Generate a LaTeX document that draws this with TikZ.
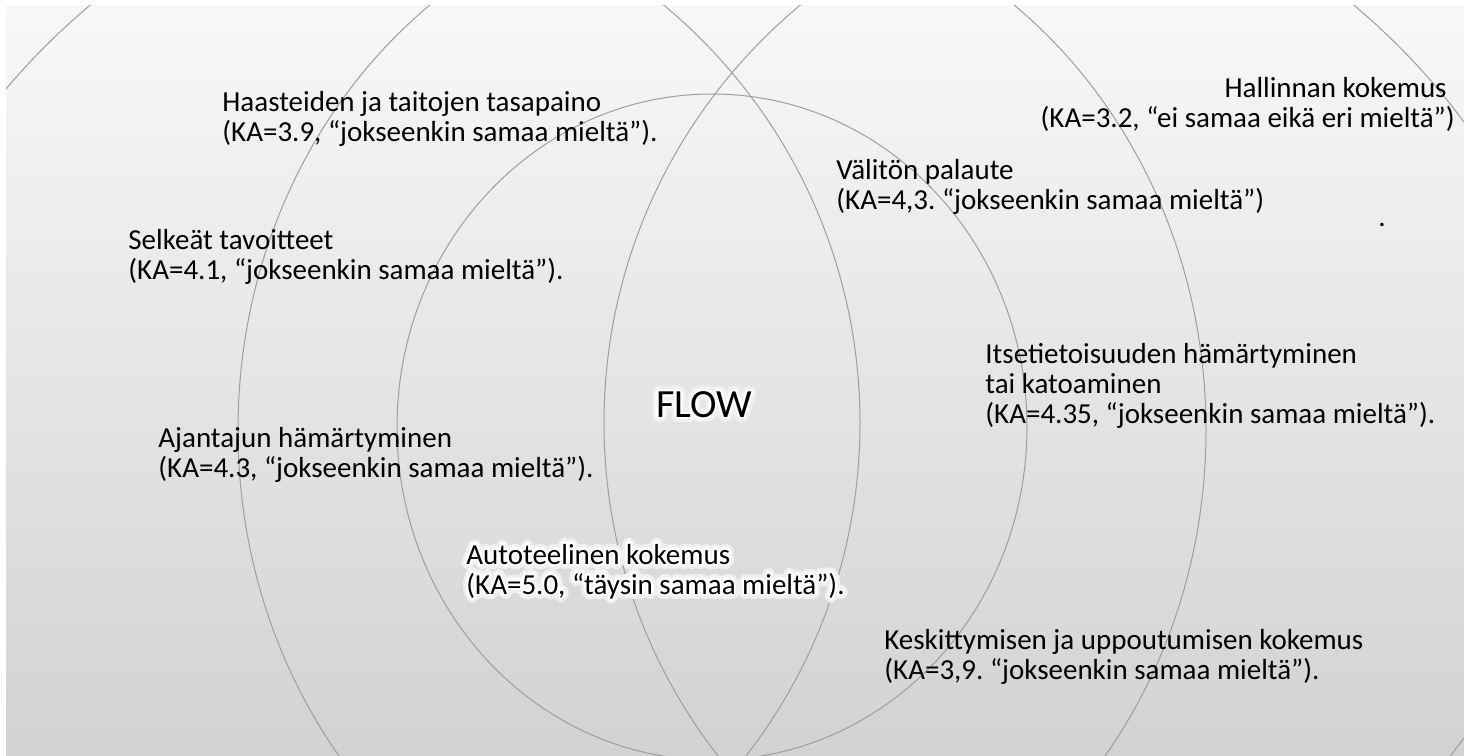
\documentclass[tikz,border=0pt]{standalone}
\usepackage{fontspec}
\setmainfont{Carlito}
\usepackage{contour}
\contournumber{32}

\definecolor{bgtop}{RGB}{248,248,248}
\definecolor{bgbot}{RGB}{210,210,210}
\definecolor{ringgray}{RGB}{158,158,158}
\definecolor{halo}{RGB}{240,240,240}

% soft white glow: a wide pale halo under a narrow white rim
\newcommand{\glowline}[1]{%
  \rlap{\contourlength{2.6pt}\color{halo}\contour{halo}{#1}}%
  \contourlength{1.1pt}\contour{white}{#1}}

\begin{document}
\frenchspacing
\begin{tikzpicture}[x=0.5pt,y=-0.5pt,
  ring/.style={draw=ringgray, line width=0.5pt},
  caption/.style={inner sep=0pt, align=left, anchor=base west,
    font=\fontsize{14.5}{15}\selectfont},
  captionr/.style={caption, align=right, anchor=base east},
  title/.style={inner sep=0pt, font=\fontsize{20}{22}\selectfont}]

% canvas and graded backdrop
\useasboundingbox (0,0) rectangle (1464,756);
\fill[white] (0,0) rectangle (1464,756);
\shade[top color=bgtop, bottom color=bgbot] (6,5) rectangle (1464,756);

% overlapping rings
\begin{scope}
  \clip (6,5) rectangle (1464,756);
  \draw[ring] (722,430) ellipse [x radius=423.5pt, y radius=319pt];
  \draw[ring] (722,430) ellipse [x radius=242pt, y radius=266.5pt];
  \draw[ring] (712,427) ellipse [x radius=157.5pt, y radius=166.5pt];
  \draw[ring] (317,423) circle [radius=271.5pt];
  \draw[ring] (1147,423) circle [radius=271.5pt];
\end{scope}

% captions (each anchored at the baseline of its last line)
\node[caption] (balance) at (222,141)
  {Haasteiden ja taitojen tasapaino\\(KA=3.9, “jokseenkin samaa mieltä”).};
\node[captionr] (control) at (1455,127)
  {Hallinnan kokemus\hspace*{4pt}\\(KA=3.2, “ei samaa eikä eri mieltä”)};
\node[caption] (feedback) at (836,209)
  {Välitön palaute\\(KA=4,3. “jokseenkin samaa mieltä”)};
\node[caption] (goals) at (128,279)
  {Selkeät tavoitteet\\(KA=4.1, “jokseenkin samaa mieltä”).};
\node[caption] (selfaware) at (985,423)
  {Itsetietoisuuden hämärtyminen\\tai katoaminen\\(KA=4.35, “jokseenkin samaa mieltä”).};
\node[caption] (timesense) at (158,477)
  {Ajantajun hämärtyminen\\(KA=4.3, “jokseenkin samaa mieltä”).};
\node[caption] (autotelic) at (466,594)
  {\glowline{Autoteelinen kokemus}\\\glowline{(KA=5.0, “täysin samaa mieltä”).}};
\node[caption] (focus) at (884,679)
  {Keskittymisen ja uppoutumisen kokemus\\(KA=3,9. “jokseenkin samaa mieltä”).};
\node[caption] (dot) at (1378,226) {.};

\node[title] (flow) at (704,407) {\glowline{FLOW}};
\end{tikzpicture}
\end{document}
